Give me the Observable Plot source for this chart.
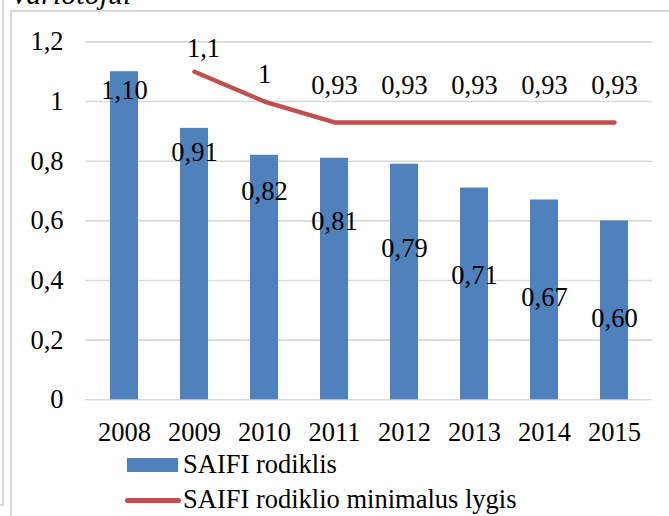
<!DOCTYPE html>
<html>
<head>
<meta charset="utf-8">
<script src="https://cdn.jsdelivr.net/npm/d3@7"></script>
<script src="https://cdn.jsdelivr.net/npm/@observablehq/plot@0.6"></script>
<style>
  html, body { margin: 0; padding: 0; background: #fff; }
  #wrap { position: relative; width: 669px; height: 516px; overflow: hidden; background: #fff;
          font-family: "Liberation Serif", "Times New Roman", serif; color: #000; }
  #chart { position: absolute; left: 0; top: 0; }
  .bl { position: absolute; background: #D9D9D9; }
  #title { position: absolute; left: 13px; top: -21px; font-size: 30px; line-height: 30px; font-style: italic; white-space: nowrap; }
  .leg { position: absolute; left: 0; font-size: 26.5px; line-height: 26.5px; white-space: nowrap; }
  .leg .sw { position: absolute; }
  .leg .tx { position: absolute; left: 183px; top: 0; }
</style>
</head>
<body>
<div id="wrap">
  <div id="chart"></div>
  <div class="bl" style="left:2px;top:0;width:2px;height:505px"></div>
  <div class="bl" style="left:0;top:504px;width:4px;height:2px"></div>
  <div class="bl" style="left:10px;top:10px;width:2px;height:506px"></div>
  <div class="bl" style="left:10px;top:10px;width:659px;height:2px"></div>
  <div id="title">variotojui</div>
  <div id="legend"></div>
</div>
<script>
// ---- data ----
const years = ["2008", "2009", "2010", "2011", "2012", "2013", "2014", "2015"];
const saifi = [1.10, 0.91, 0.82, 0.81, 0.79, 0.71, 0.67, 0.60];
const saifiLabelY = [1.037, 0.829, 0.698, 0.598, 0.507, 0.417, 0.343, 0.273];
const minYears = ["2009", "2010", "2011", "2012", "2013", "2014", "2015"];
const minLevel = [1.1, 1, 0.93, 0.93, 0.93, 0.93, 0.93];
const minLabels = ["1,1", "1", "0,93", "0,93", "0,93", "0,93", "0,93"];
const minLabelY = [1.178, 1.091, 1.054, 1.054, 1.054, 1.054, 1.054];
const yTicks = [0, 0.2, 0.4, 0.6, 0.8, 1, 1.2];
const seriesNames = ["SAIFI rodiklis", "SAIFI rodiklio minimalus lygis"];
const colors = ["#4F81BD", "#C0504D"];

const bars = years.map((y, i) => ({year: y, value: saifi[i], ly: saifiLabelY[i],
  label: saifi[i].toFixed(2).replace(".", ",")}));
const line = minYears.map((y, i) => ({year: y, value: minLevel[i], ly: minLabelY[i], label: minLabels[i]}));
const comma = d => String(d).replace(".", ",");

const chart = Plot.plot({
  width: 669,
  height: 450,
  marginLeft: 85,
  marginRight: 17,
  marginTop: 41.4,
  marginBottom: 50.7,
  style: {fontFamily: "'Liberation Serif', 'Times New Roman', serif", fontSize: "26.5px", color: "#000", background: "transparent", overflow: "visible"},
  x: {domain: years, paddingInner: 0.605, paddingOuter: 0.3025, label: null},
  y: {domain: [0, 1.2], label: null},
  marks: [
    Plot.ruleY(yTicks, {stroke: "#D9D9D9", strokeWidth: 1.6}),
    Plot.barY(bars, {x: "year", y: "value", fill: colors[0]}),
    Plot.line(line, {x: "year", y: "value", stroke: colors[1], strokeWidth: 4.5, strokeLinecap: "round", strokeLinejoin: "round"}),
    Plot.text(bars, {x: "year", y: "ly", text: "label", fill: "#000"}),
    Plot.text(line.slice(0, 1), {x: "year", y: "ly", text: "label", fill: "#000", dx: 9}),
    Plot.text(line.slice(1), {x: "year", y: "ly", text: "label", fill: "#000"}),
    Plot.axisY(yTicks, {tickSize: 0, tickPadding: 22, tickFormat: comma, label: null}),
    Plot.axisX({tickSize: 0, tickPadding: 22, label: null})
  ]
});
document.getElementById("chart").appendChild(chart);

// legend
const legend = document.getElementById("legend");
const rows = [
  {name: seriesNames[0], top: 451, sw: `left:127px;top:7px;width:51px;height:14px;background:${colors[0]}`},
  {name: seriesNames[1], top: 486, sw: `left:125px;top:12px;width:56px;height:5px;border-radius:3px;background:${colors[1]}`}
];
rows.forEach(r => {
  const d = document.createElement("div");
  d.className = "leg";
  d.style.top = r.top + "px";
  d.style.width = "669px";
  d.style.height = "30px";
  d.innerHTML = `<div class="sw" style="${r.sw}"></div><div class="tx">${r.name}</div>`;
  legend.appendChild(d);
});
</script>
</body>
</html>
